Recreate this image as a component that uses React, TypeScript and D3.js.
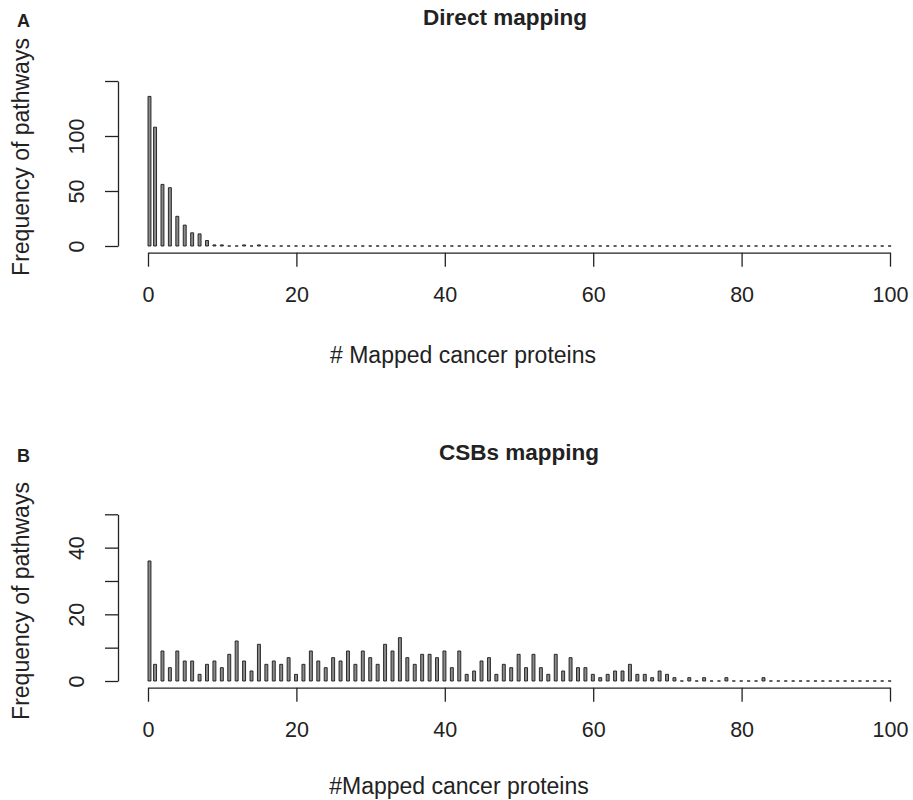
import { useEffect, useRef } from "react";
import * as d3 from "d3";

// number of mapped cancer proteins, one bin per integer 0..100
const BINS = d3.range(0, 101);

// panel A: direct mapping (frequency of pathways per bin)
const DIRECT_COUNTS = [
  136, 108, 56, 53, 27, 19, 12, 11, 5, 1, 1, 0, 0, 1, 0, 1, 0, 0, 0, 0,
  0, 0, 0, 0, 0, 0, 0, 0, 0, 0, 0, 0, 0, 0, 0, 0, 0, 0, 0, 0,
  0, 0, 0, 0, 0, 0, 0, 0, 0, 0, 0, 0, 0, 0, 0, 0, 0, 0, 0, 0,
  0, 0, 0, 0, 0, 0, 0, 0, 0, 0, 0, 0, 0, 0, 0, 0, 0, 0, 0, 0,
  0, 0, 0, 0, 0, 0, 0, 0, 0, 0, 0, 0, 0, 0, 0, 0, 0, 0, 0, 0,
  0,
];

// panel B: CSBs mapping
const CSB_COUNTS = [
  36, 5, 9, 4, 9, 6, 6, 2, 5, 6, 4, 8, 12, 6, 3, 11, 5, 6, 5, 7,
  2, 5, 9, 6, 4, 7, 6, 9, 5, 9, 7, 5, 11, 9, 13, 7, 5, 8, 8, 7,
  9, 4, 9, 2, 3, 6, 7, 2, 5, 4, 8, 4, 8, 4, 2, 8, 3, 7, 4, 4,
  2, 1, 2, 3, 3, 5, 2, 2, 1, 3, 2, 1, 0, 1, 0, 1, 0, 0, 1, 0,
  0, 0, 0, 1, 0, 0, 0, 0, 0, 0, 0, 0, 0, 0, 0, 0, 0, 0, 0, 0,
  0,
];

const X_TICKS = [0, 20, 40, 60, 80, 100];
const Y_TICKS_A = [0, 50, 100, 150];
const Y_LABELS_A = ["0", "50", "100", ""];
const Y_TICKS_B = [0, 10, 20, 30, 40, 50];
const Y_LABELS_B = ["0", "", "20", "", "40", ""];

const FONT = "'Liberation Sans', Arial, Helvetica, sans-serif";
const INK = "#222";

const PANELS = [
  {
    letter: "A",
    title: "Direct mapping",
    titleX: 505,
    xLabel: "# Mapped cancer proteins",
    xLabelX: 463,
    xLabelY: 363,
    yLabelY: 157,
    counts: DIRECT_COUNTS,
    yTicks: Y_TICKS_A,
    yLabels: Y_LABELS_A,
    yMax: 150,
    yTop: 81,
    top: 0,
  },
  {
    letter: "B",
    title: "CSBs mapping",
    titleX: 519,
    xLabel: "#Mapped cancer proteins",
    xLabelX: 459,
    xLabelY: 359,
    yLabelY: 166,
    counts: CSB_COUNTS,
    yTicks: Y_TICKS_B,
    yLabels: Y_LABELS_B,
    yMax: 50,
    yTop: 79.3,
    top: 435,
  },
];

export default function App() {
  const svgRef = useRef(null);

  useEffect(() => {
    const width = 913;
    const height = 800;
    const svg = d3.select(svgRef.current);
    svg.selectAll("*").remove();
    svg.attr("width", width).attr("height", height);

    const x = d3.scaleLinear().domain([0, 100]).range([148, 890]);
    const barW = x(0.4) - x(0);

    PANELS.forEach((p) => {
      const g = svg.append("g").attr("transform", `translate(0,${p.top})`);
      const base = 246;
      const y = d3.scaleLinear().domain([0, p.yMax]).range([base, p.yTop]);

      // bars (zero-height bins still show as a flat outline)
      g.selectAll(".bar")
        .data(BINS)
        .join("path")
        .attr("class", "bar")
        .attr("d", (k) => {
          const x0 = x(k === 0 ? 0 : k - 0.25);
          const y1 = y(p.counts[k]);
          return `M${x0},${base}H${x0 + barW}V${y1}H${x0}Z`;
        })
        .attr("fill", "#8a8a8a")
        .attr("stroke", "#1a1a1a")
        .attr("stroke-width", 0.9);

      // x axis
      const xAxis = g
        .append("g")
        .attr("transform", `translate(0,${base + 6.7})`)
        .call(d3.axisBottom(x).tickValues(X_TICKS).tickSize(14).tickSizeOuter(0).tickPadding(20));
      xAxis.select(".domain").attr("stroke", INK).attr("stroke-width", 1.3);
      xAxis.selectAll(".tick line").attr("stroke", INK).attr("stroke-width", 1.3);
      xAxis
        .selectAll(".tick text")
        .attr("font-family", FONT)
        .attr("font-size", 21.5)
        .attr("fill", INK)
        .attr("dy", "0.71em");

      // y axis (labels rotated, R style)
      const yAxis = g
        .append("g")
        .attr("transform", "translate(118,0)")
        .call(d3.axisLeft(y).tickValues(p.yTicks).tickSize(13).tickSizeOuter(0));
      yAxis.select(".domain").attr("stroke", INK).attr("stroke-width", 1.3);
      yAxis.selectAll(".tick line").attr("stroke", INK).attr("stroke-width", 1.3);
      yAxis
        .selectAll(".tick text")
        .text((d, i) => p.yLabels[i])
        .attr("transform", "rotate(-90)")
        .attr("x", 0)
        .attr("y", -34)
        .attr("dy", 0)
        .attr("text-anchor", "middle")
        .attr("font-family", FONT)
        .attr("font-size", 21.5)
        .attr("fill", INK);

      g.append("text")
        .attr("x", 17)
        .attr("y", 27)
        .attr("font-family", FONT)
        .attr("font-weight", "bold")
        .attr("font-size", 18)
        .attr("fill", INK)
        .text(p.letter);

      g.append("text")
        .attr("x", p.titleX)
        .attr("y", 25)
        .attr("text-anchor", "middle")
        .attr("font-family", FONT)
        .attr("font-weight", "bold")
        .attr("font-size", 22.5)
        .attr("fill", INK)
        .text(p.title);

      g.append("text")
        .attr("x", p.xLabelX)
        .attr("y", p.xLabelY)
        .attr("text-anchor", "middle")
        .attr("font-family", FONT)
        .attr("font-size", 23)
        .attr("fill", INK)
        .text(p.xLabel);

      g.append("text")
        .attr("transform", `translate(28.5,${p.yLabelY}) rotate(-90)`)
        .attr("text-anchor", "middle")
        .attr("font-family", FONT)
        .attr("font-size", 23)
        .attr("fill", INK)
        .text("Frequency of pathways");
    });
  }, []);

  return (
    <div style={{ position: "absolute", left: 0, top: 0, background: "#fff" }}>
      <svg ref={svgRef} style={{ display: "block" }} />
    </div>
  );
}
